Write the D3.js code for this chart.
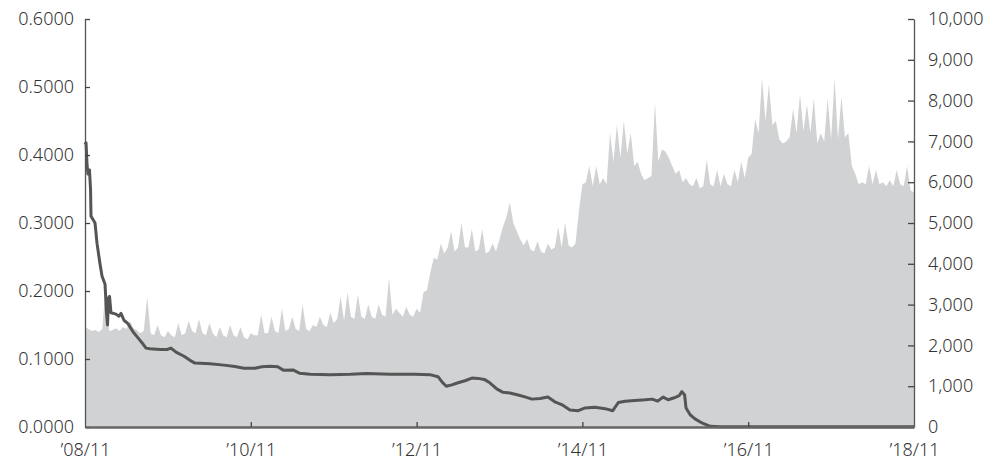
<!DOCTYPE html>
<html>
<head>
<meta charset="utf-8">
<script src="https://cdn.jsdelivr.net/npm/d3@7"></script>
<style>
  body { margin: 0; background: #fff; }
  #vis text { font-family: "Noto Sans", "Open Sans", sans-serif; font-weight: 300; fill: #333; }
</style>
</head>
<body>
<div id="vis"></div>
<script>
// x axis: months since Nov 2008, labelled every two years
var tickMonths = [0, 24, 48, 72, 96, 120];
var tickLabels = ["\u201908/11", "\u201910/11", "\u201912/11", "\u201914/11", "\u201916/11", "\u201918/11"];

var leftTicks = [0, 0.1, 0.2, 0.3, 0.4, 0.5, 0.6];
var rightTicks = [0, 1000, 2000, 3000, 4000, 5000, 6000, 7000, 8000, 9000, 10000];

// grey area (right axis), one value every half month
var areaVals = [
  2450, 2400, 2350, 2380, 2330, 2400, 3500, 2350, 2380, 2420,
  2350, 2450, 2400, 2600, 2420, 2380, 2300, 2350, 3200, 2300,
  2250, 2500, 2250, 2200, 2350, 2250, 2200, 2550, 2250, 2300,
  2600, 2350, 2300, 2650, 2300, 2250, 2550, 2300, 2200, 2450,
  2250, 2200, 2500, 2250, 2200, 2450, 2200, 2150, 2300, 2250,
  2250, 2750, 2300, 2300, 2700, 2350, 2300, 2900, 2350, 2400,
  2700, 2400, 2350, 3000, 2400, 2350, 2500, 2450, 2700, 2500,
  2450, 2800, 2550, 2650, 3200, 2600, 3300, 2700, 2650, 3250,
  2700, 2650, 3000, 2700, 2650, 3000, 2750, 2700, 3650, 2750,
  2900, 2800, 2700, 2950, 2750, 2700, 2900, 2800, 3300, 3350,
  3800, 4150, 4100, 4500, 4250, 4400, 4800, 4300, 4400, 5000,
  4400, 4400, 4850, 4300, 4350, 4850, 4250, 4300, 4500, 4300,
  4600, 4900, 5150, 5500, 5000, 4800, 4600, 4450, 4600, 4350,
  4300, 4550, 4300, 4250, 4500, 4350, 4400, 4900, 4400, 5000,
  4450, 4400, 4500, 5300, 5950, 6000, 6400, 5900, 6400, 5950,
  6100, 5950, 7200, 6500, 7400, 6600, 7500, 6700, 7200, 6400,
  6500, 6200, 6050, 6100, 6150, 7950, 6500, 6800, 6750, 6600,
  6400, 6200, 6300, 6000, 6100, 5950, 5900, 6100, 5850, 5900,
  6550, 5950, 5900, 6300, 5900, 6200, 5950, 5900, 6300, 6000,
  6500, 6100, 6600, 6700, 7550, 7200, 8550, 7500, 8400, 7400,
  7500, 7050, 6950, 7000, 7100, 7800, 7200, 8150, 7250, 7900,
  7200, 8050, 6950, 7200, 7000, 8050, 7050, 8550, 7050, 8100,
  7100, 7200, 6400, 6200, 5950, 6000, 5950, 6400, 5950, 6300,
  5950, 6000, 5900, 6050, 5900, 6300, 5950, 5900, 6400, 5800,
  5750
];

// dark line (left axis): [month, value]
var lineMonths = [
  0, 0.15, 0.3, 0.43, 0.65, 0.8, 0.87, 1.16, 1.45, 1.74,
  2.17, 2.46, 2.9, 3.1, 3.26, 3.4, 3.55, 3.76, 4.49, 4.92,
  5.21, 5.64, 6.22, 6.95, 7.67, 8.4, 8.83, 9.41, 10.86, 11.87,
  12.45, 13.17, 14.33, 15.2, 15.92, 18.1, 20.1, 21.7, 23, 24.6,
  25.6, 26.8, 27.9, 28.7, 30.1, 31.1, 32.6, 35.5, 38.4, 40.8,
  44.2, 47.8, 49.9, 51.1, 51.7, 52.3, 53.1, 54, 55, 56,
  56.9, 57.8, 58.6, 59.6, 60.5, 61.5, 62.7, 63.8, 64.7, 65.9,
  67, 68, 69, 70.2, 71.4, 72.4, 73.8, 75.3, 76.4, 77.2,
  78.2, 79.6, 81.1, 82.1, 82.9, 83.7, 84.4, 85.3, 86, 86.4,
  86.8, 87, 87.6, 88.3, 89.3, 90.5, 91.9, 100, 110, 120
];
var lineVals = [
  0.415, 0.418, 0.385, 0.372, 0.378, 0.35, 0.31, 0.305, 0.300, 0.27,
  0.24, 0.222, 0.21, 0.17, 0.15, 0.19, 0.192, 0.168, 0.166, 0.163,
  0.167, 0.157, 0.152, 0.14, 0.131, 0.122, 0.116, 0.115, 0.114, 0.114,
  0.116, 0.11, 0.104, 0.098, 0.094, 0.093, 0.091, 0.089, 0.0865, 0.0865,
  0.0885, 0.0895, 0.0885, 0.0836, 0.084, 0.079, 0.0775, 0.077, 0.0775, 0.0785,
  0.0775, 0.0775, 0.077, 0.074, 0.066, 0.06, 0.062, 0.065, 0.068, 0.072,
  0.0715, 0.07, 0.065, 0.056, 0.051, 0.05, 0.047, 0.044, 0.041, 0.042,
  0.044, 0.037, 0.033, 0.025, 0.024, 0.028, 0.029, 0.027, 0.024, 0.036,
  0.038, 0.039, 0.04, 0.041, 0.038, 0.044, 0.04, 0.043, 0.046, 0.052,
  0.047, 0.028, 0.018, 0.012, 0.006, 0.001, 0.0003, 0.0003, 0.0003, 0.0003
];

var margin = {top: 19, right: 74, bottom: 34, left: 85},
    width = 988 - margin.left - margin.right,
    height = 461 - margin.top - margin.bottom;

var svg = d3.select("#vis").append("svg")
  .attr("width", 988)
  .attr("height", 461)
  .append("g")
    .attr("transform", "translate(" + margin.left + "," + margin.top + ")");

var x = d3.scaleLinear().domain([0, 120]).range([0, width]);
var yLeft = d3.scaleLinear().domain([0, 0.6]).range([height, 0]);
var yRight = d3.scaleLinear().domain([0, 10000]).range([height, 0]);

var step = 120 / (areaVals.length - 1);

// grey area
var area = d3.area()
  .x(function (d, i) { return x(i * step); })
  .y0(height)
  .y1(function (d) { return yRight(d); });

svg.append("path")
  .datum(areaVals)
  .attr("fill", "#d1d2d4")
  .attr("d", area);

// dark line
var line = d3.line()
  .x(function (d) { return x(d[0]); })
  .y(function (d) { return yLeft(d[1]); });

svg.append("path")
  .datum(d3.zip(lineMonths, lineVals))
  .attr("fill", "none")
  .attr("stroke", "#555")
  .attr("stroke-width", 3)
  .attr("stroke-linejoin", "round")
  .attr("d", line);

// axes
var leftAxis = d3.axisLeft(yLeft)
  .tickValues(leftTicks)
  .tickFormat(d3.format(".4f"))
  .tickSizeInner(-5)
  .tickSizeOuter(0)
  .tickPadding(15);

var rightAxis = d3.axisRight(yRight)
  .tickValues(rightTicks)
  .tickFormat(d3.format(","))
  .tickSizeInner(-6)
  .tickSizeOuter(0)
  .tickPadding(14);

var bottomAxis = d3.axisBottom(x)
  .tickValues(tickMonths)
  .tickFormat(function (d, i) { return tickLabels[i]; })
  .tickSizeInner(-5)
  .tickSizeOuter(0)
  .tickPadding(16);

var lg = svg.append("g").attr("class", "axis").call(leftAxis);
var rg = svg.append("g").attr("class", "axis")
  .attr("transform", "translate(" + width + ",0)")
  .call(rightAxis);
var bg = svg.append("g").attr("class", "axis")
  .attr("transform", "translate(0," + height + ")")
  .call(bottomAxis);

[lg, rg, bg].forEach(function (g) {
  g.select(".domain").attr("stroke", "#555").attr("stroke-width", 1.3);
  g.selectAll(".tick line").attr("stroke", "#444").attr("stroke-width", 1.3);
  g.selectAll("text").style("font-size", "18px");
});
bg.select(".domain").attr("stroke", "#666").attr("stroke-width", 2.4);
bg.selectAll(".tick line").filter(function (d) { return d === 0 || d === 120; }).remove();
lg.selectAll("text").attr("dx", 4);
</script>
</body>
</html>
